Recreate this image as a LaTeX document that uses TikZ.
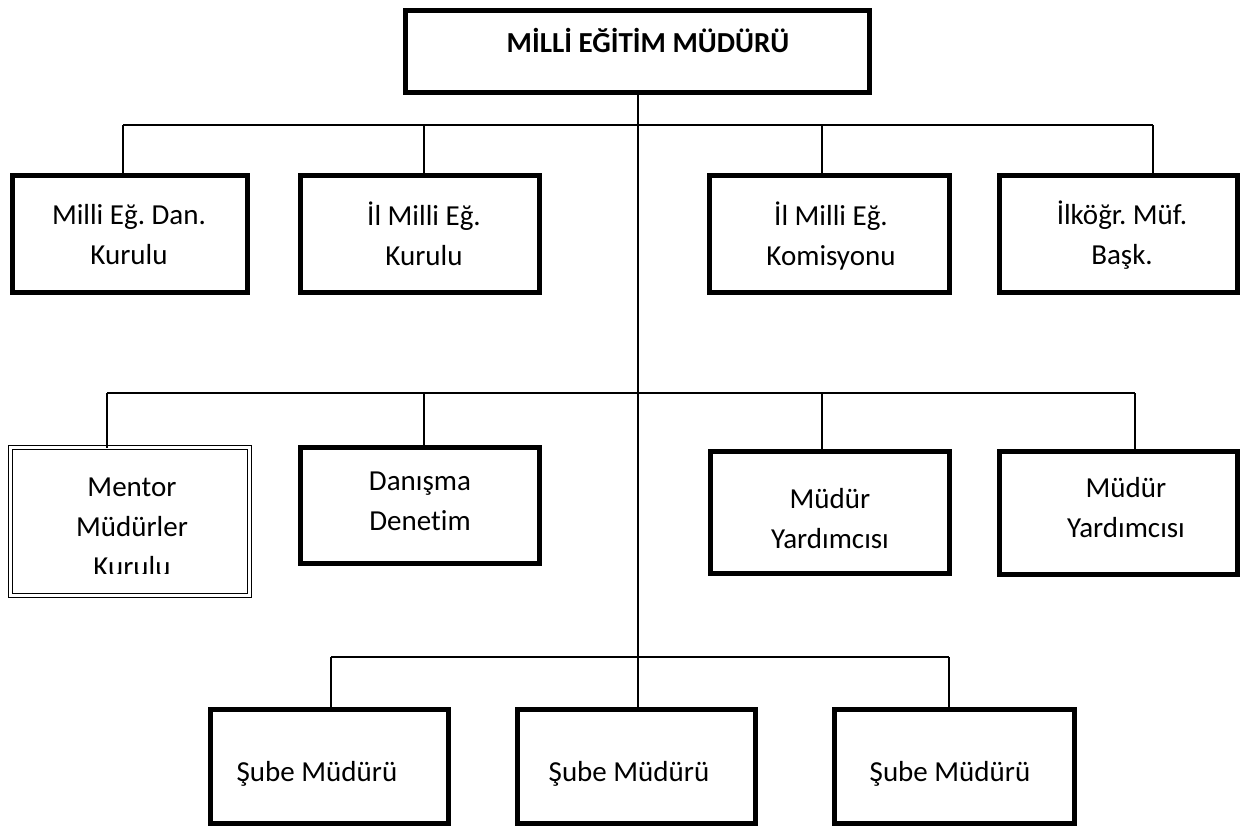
\documentclass[tikz,border=0pt]{standalone}
\usepackage{fontspec}
\setmainfont{Carlito}[Ligatures=NoCommon]
\frenchspacing
\newcommand\orgfont{\fontsize{29}{40}\selectfont}
\begin{document}
\begin{tikzpicture}[x=1pt,y=-1pt,
  box/.style={draw, line width=5pt, inner sep=0pt, outer sep=0pt, fill=white},
  dblbox/.style={draw, line width=1.3pt, double=white, double distance=2.4pt,
                 inner sep=0pt, outer sep=0pt},
  lbl/.style={align=center, font=\orgfont, inner sep=0pt},
  wire/.style={line width=1.8pt}]
\useasboundingbox (0,0) rectangle (1248,831);
\fill[white] (0,0) rectangle (1248,831);

% ---- bus lines and drop points ----
\coordinate (t0) at (638,95);
\coordinate (j1) at (638,125);
\coordinate (j2) at (638,393);
\coordinate (j3) at (638,657);
\coordinate (d11) at (123,125);
\coordinate (d12) at (424,125);
\coordinate (d13) at (822,125);
\coordinate (d14) at (1153,125);
\coordinate (d21) at (107,393);
\coordinate (d22) at (424,393);
\coordinate (d23) at (822,393);
\coordinate (d24) at (1135,393);
\coordinate (d31) at (331,657);
\coordinate (d32) at (638,657);
\coordinate (d33) at (949,657);

% ---- boxes ----
\node[box, minimum width=464pt, minimum height=82pt] (top) at (637.5,51.5) {};
\node[box, minimum width=235pt, minimum height=117pt] (r1a) at (130,234) {};
\node[box, minimum width=239pt, minimum height=117pt] (r1b) at (420,234) {};
\node[box, minimum width=240pt, minimum height=117pt] (r1c) at (829.5,234) {};
\node[box, minimum width=238pt, minimum height=117pt] (r1d) at (1118.5,234) {};
\node[dblbox, minimum width=239pt, minimum height=148pt] (r2a) at (130,521.5) {};
\node[box, minimum width=239pt, minimum height=116pt] (r2b) at (420,505.5) {};
\node[box, minimum width=239pt, minimum height=122pt] (r2c) at (830,512.5) {};
\node[box, minimum width=238pt, minimum height=123pt] (r2d) at (1118.5,513) {};
\node[box, minimum width=238pt, minimum height=114pt] (r3a) at (329.5,766.5) {};
\node[box, minimum width=238pt, minimum height=114pt] (r3b) at (636.5,766.5) {};
\node[box, minimum width=240pt, minimum height=114pt] (r3c) at (954.5,766.5) {};

% ---- connectors ----
\begin{scope}[wire]
  \draw (top.south -| t0) -- (j3);
  \draw (d11) -- (d14);
  \draw (d21) -- (d24);
  \draw (d31) -- (d33);
  \draw (d11) -- (d11 |- r1a.north);
  \draw (d12) -- (d12 |- r1b.north);
  \draw (d13) -- (d13 |- r1c.north);
  \draw (d14) -- (d14 |- r1d.north);
  \draw (d21) -- (d21 |- r2a.north);
  \draw (d22) -- (d22 |- r2b.north);
  \draw (d23) -- (d23 |- r2c.north);
  \draw (d24) -- (d24 |- r2d.north);
  \draw (d31) -- (d31 |- r3a.north);
  \draw (d32) -- (d32 |- r3b.north);
  \draw (d33) -- (d33 |- r3c.north);
\end{scope}

% ---- labels ----
\node[lbl, font=\orgfont\bfseries] (topt) at (648,44) {\strut M\.ILL\.I E\u{G}\.IT\.IM MÜDÜRÜ};
\node[lbl] (r1at) at (129,236) {\strut Milli Eğ. Dan.\\\strut Kurulu};
\node[lbl] (r1bt) at (424,237) {\strut İl Milli Eğ.\\\strut Kurulu};
\node[lbl] (r1ct) at (831,237) {\strut İl Milli Eğ.\\\strut Komisyonu};
\node[lbl] (r1dt) at (1122,236) {\strut İlköğr. Müf.\\\strut Başk.};
% the third line runs past the text area of the box and is cut off
\begin{scope}
  \clip (12,449) rectangle (248,573);
  \node[lbl] (r2at) at (132,528) {\strut Mentor\\\strut Müdürler\\\strut Kurulu};
\end{scope}
\node[lbl] (r2bt) at (420,502) {\strut Danışma\\\strut Denetim};
\node[lbl] (r2ct) at (830,520) {\strut Müdür\\\strut Yardımcısı};
\node[lbl] (r2dt) at (1126,509) {\strut Müdür\\\strut Yardımcısı};
\node[lbl] (r3at) at (317,773) {\strut Şube Müdürü};
\node[lbl] (r3bt) at (629,773) {\strut Şube Müdürü};
\node[lbl] (r3ct) at (950,773) {\strut Şube Müdürü};
\end{tikzpicture}
\end{document}
